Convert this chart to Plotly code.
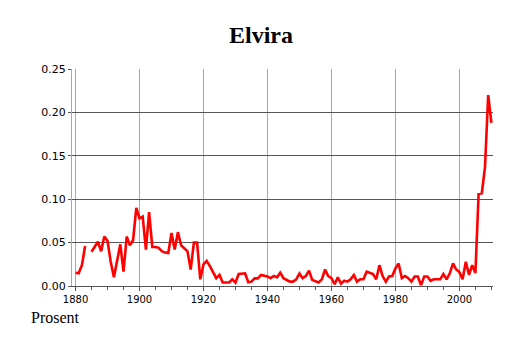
import plotly.graph_objects as go

years = list(range(1880, 2011))
values = [
    0.0153, 0.0146, 0.024, 0.046, None, 0.0395, 0.045, 0.051, 0.040, 0.057,  # 1880-1889
    0.052, 0.028, 0.010, 0.028, 0.048, 0.0165, 0.057, 0.047, 0.053, 0.090,   # 1890-1899
    0.078, 0.080, 0.042, 0.085, 0.045, 0.045, 0.044, 0.040, 0.0385, 0.038,   # 1900-1909
    0.061, 0.042, 0.062, 0.047, 0.044, 0.040, 0.019, 0.050, 0.050, 0.0077,   # 1910-1919
    0.025, 0.029, 0.023, 0.016, 0.009, 0.0128, 0.004, 0.004, 0.004, 0.0077,  # 1920-1929
    0.004, 0.0138, 0.0138, 0.0146, 0.0043, 0.005, 0.0088, 0.0088, 0.0127, 0.012,  # 1930-1939
    0.011, 0.009, 0.0115, 0.010, 0.0154, 0.009, 0.0069, 0.005, 0.005, 0.0077,  # 1940-1949
    0.0145, 0.009, 0.0115, 0.0177, 0.0069, 0.005, 0.004, 0.0077, 0.019, 0.0115,  # 1950-1959
    0.009, 0.002, 0.010, 0.0027, 0.006, 0.005, 0.0077, 0.0127, 0.005, 0.0077,  # 1960-1969
    0.0077, 0.0165, 0.015, 0.0138, 0.0077, 0.024, 0.0115, 0.005, 0.011, 0.0115,  # 1970-1979
    0.0203, 0.026, 0.009, 0.0115, 0.009, 0.005, 0.011, 0.011, 0.001, 0.011,  # 1980-1989
    0.011, 0.006, 0.0077, 0.0077, 0.0077, 0.0138, 0.0077, 0.0146, 0.026, 0.019,  # 1990-1999
    0.016, 0.0077, 0.028, 0.013, 0.024, 0.015, 0.106, 0.107, 0.137, 0.220,  # 2000-2009
    0.188,  # 2010
]

x_tickvals = [1880, 1900, 1920, 1940, 1960, 1980, 2000]
y_tickvals = [0.0, 0.05, 0.10, 0.15, 0.20, 0.25]
y_ticktext = ["0.00", "0.05", "0.10", "0.15", "0.20", "0.25"]

fig = go.Figure()
fig.add_trace(go.Scatter(
    x=years, y=values, mode="lines",
    line=dict(color="#ff0000", width=2.6),
    connectgaps=False, hoverinfo="skip",
))

# the page body has an 8px default margin, so the figure is sized and offset to compensate
fig.update_layout(
    width=506, height=335,
    margin=dict(l=64, r=21, t=61, b=57),
    paper_bgcolor="white", plot_bgcolor="white",
    showlegend=False,
    title=dict(text="<b>Elvira</b>", x=0.5, xanchor="center", y=1 - 27 / 335, yanchor="middle",
               font=dict(family="Liberation Serif", size=24, color="black")),
    xaxis=dict(
        range=[1878.9, 2010.5],
        tickvals=x_tickvals, ticktext=[str(v) for v in x_tickvals],
        showgrid=True, gridcolor="#a8a8a8", gridwidth=1,
        zeroline=False,
        showline=True, linecolor="#555555", linewidth=1,
        ticks="outside", ticklen=4, tickcolor="#555555",
        minor=dict(dtick=5, tick0=1880, ticks="outside", ticklen=3, tickcolor="#555555", showgrid=False),
        tickfont=dict(family="DejaVu Sans", size=10, color="black"),
    ),
    yaxis=dict(
        range=[0, 0.25],
        tickvals=y_tickvals, ticktext=y_ticktext,
        showgrid=True, gridcolor="#555555", gridwidth=1,
        zeroline=False,
        showline=True, linecolor="#a8a8a8", linewidth=1,
        ticks="outside", ticklen=3, tickcolor="#555555",
        tickfont=dict(family="DejaVu Sans", size=11, color="black"),
    ),
    annotations=[dict(
        text="Prosent", xref="paper", yref="paper",
        x=-0.04, y=-0.147, xanchor="center", yanchor="middle",
        showarrow=False,
        font=dict(family="Liberation Serif", size=16, color="black"),
    )],
)

fig.write_html("out.html")
